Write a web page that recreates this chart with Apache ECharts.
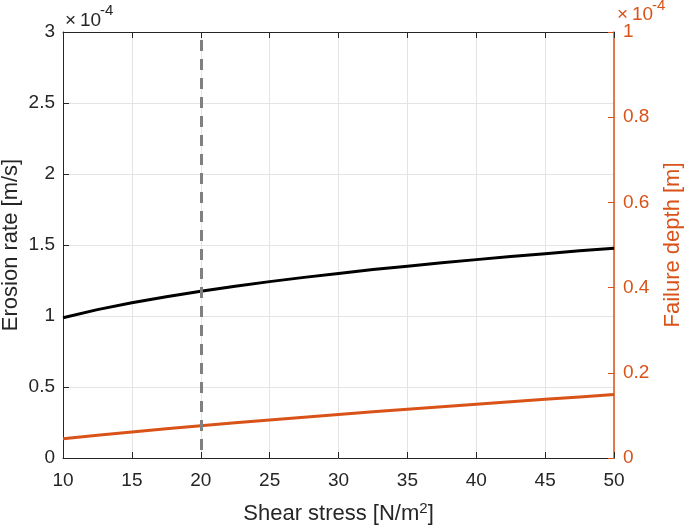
<!DOCTYPE html>
<html>
<head>
<meta charset="utf-8">
<script src="https://cdn.jsdelivr.net/npm/echarts@6/dist/echarts.min.js"></script>
<style>
  html, body { margin: 0; padding: 0; background: #fff; }
  #chart { width: 685px; height: 527px; }
</style>
</head>
<body>
<div id="chart"></div>
<script>
// Data (values in units of 1e-4)
const shearStress = [10, 12.5, 15, 17.5, 20, 22.5, 25, 27.5, 30, 32.5, 35, 37.5, 40, 42.5, 45, 47.5, 50];
const erosionRate = [0.988, 1.045, 1.093, 1.136, 1.175, 1.210, 1.242, 1.272, 1.300, 1.327, 1.351, 1.375, 1.397, 1.419, 1.439, 1.459, 1.477];
const failureDepth = [0.0454, 0.0535, 0.0612, 0.0686, 0.0757, 0.0826, 0.0893, 0.0958, 0.1022, 0.1084, 0.1144, 0.1204, 0.1263, 0.1321, 0.1378, 0.1434, 0.149];
const criticalShear = 20;
const xTicks = { min: 10, max: 50, interval: 5 };
const yLeftTicks = { min: 0, max: 3, interval: 0.5 };
const yRightTicks = { min: 0, max: 1, interval: 0.2 };

const AX = '#262626';
const OR = '#D95319';
const FONT = '"Liberation Sans", Arial, Helvetica, sans-serif';

const chart = echarts.init(document.getElementById('chart'), null, { renderer: 'canvas' });

const pair = (xs, ys) => xs.map((x, i) => [x, ys[i]]);

function expLabel(x0, yMain, ySup, color) {
  return [
    { type: 'text', x: x0, y: yMain, style: { text: '×', fontSize: 19, fontFamily: FONT, fill: color, verticalAlign: 'middle' } },
    { type: 'text', x: x0 + 15, y: yMain, style: { text: '10', fontSize: 19, fontFamily: FONT, fill: color, verticalAlign: 'middle' } },
    { type: 'text', x: x0 + 35, y: ySup, style: { text: '-4', fontSize: 15, fontFamily: FONT, fill: color, verticalAlign: 'middle' } }
  ];
}

chart.setOption({
  animation: false,
  backgroundColor: '#fff',
  textStyle: { fontFamily: FONT },
  grid: { left: 63, right: 71, top: 32, bottom: 69, containLabel: false, outerBoundsMode: 'none' },
  xAxis: [
    {
      type: 'value', position: 'bottom',
      min: xTicks.min, max: xTicks.max, interval: xTicks.interval,
      name: '{n|Shear stress [N/m}{s|2}{n|]}',
      nameLocation: 'middle', nameGap: 43, nameMoveOverlap: false,
      nameTextStyle: {
        color: AX, fontFamily: FONT,
        rich: {
          n: { fontSize: 22, color: AX, fontFamily: FONT, lineHeight: 26 },
          s: { fontSize: 15, color: AX, fontFamily: FONT, verticalAlign: 'top', lineHeight: 15 }
        }
      },
      axisLine: { show: true, onZero: false, lineStyle: { color: AX, width: 1 } },
      axisTick: { show: true, inside: true, length: 6, lineStyle: { color: AX } },
      axisLabel: { color: AX, fontSize: 19, fontFamily: FONT, margin: 13 },
      splitLine: { show: true, lineStyle: { color: '#e4e4e4', width: 1 } }
    },
    {
      type: 'value', position: 'top',
      min: xTicks.min, max: xTicks.max, interval: xTicks.interval,
      axisLine: { show: true, onZero: false, lineStyle: { color: AX, width: 1 } },
      axisTick: { show: true, inside: true, length: 6, lineStyle: { color: AX } },
      axisLabel: { show: false },
      splitLine: { show: false }
    }
  ],
  yAxis: [
    {
      type: 'value', position: 'left',
      min: yLeftTicks.min, max: yLeftTicks.max, interval: yLeftTicks.interval,
      name: 'Erosion rate [m/s]',
      nameLocation: 'middle', nameGap: 41, nameMoveOverlap: false,
      nameTextStyle: { color: AX, fontSize: 22, fontFamily: FONT },
      axisLine: { show: true, onZero: false, lineStyle: { color: AX, width: 1 } },
      axisTick: { show: true, inside: true, length: 6, lineStyle: { color: AX } },
      axisLabel: { color: AX, fontSize: 19, fontFamily: FONT, margin: 8 },
      splitLine: { show: true, lineStyle: { color: '#e4e4e4', width: 1 } }
    },
    {
      type: 'value', position: 'right',
      min: yRightTicks.min, max: yRightTicks.max, interval: yRightTicks.interval,
      name: 'Failure depth [m]',
      nameLocation: 'middle', nameGap: 48, nameMoveOverlap: false,
      nameRotate: 90,
      nameTextStyle: { color: OR, fontSize: 22, fontFamily: FONT },
      axisLine: { show: true, onZero: false, lineStyle: { color: OR, width: 1.5 } },
      axisTick: { show: true, inside: true, length: 6, lineStyle: { color: OR } },
      axisLabel: { color: OR, fontSize: 19, fontFamily: FONT, margin: 9 },
      splitLine: { show: false }
    }
  ],
  graphic: [].concat(expLabel(65, 20.5, 10.5, AX), expLabel(617, 14.5, 6, OR)),
  series: [
    {
      name: 'Erosion rate', type: 'line',
      xAxisIndex: 0, yAxisIndex: 0,
      data: pair(shearStress, erosionRate),
      smooth: false,
      showSymbol: false, symbol: 'none',
      lineStyle: { color: '#000', width: 3 },
      z: 3,
      markLine: {
        silent: true, symbol: 'none',
        label: { show: false },
        lineStyle: { color: '#808080', width: 3, type: [11, 8], dashOffset: 11 },
        data: [{ xAxis: criticalShear }]
      }
    },
    {
      name: 'Failure depth', type: 'line',
      xAxisIndex: 0, yAxisIndex: 1,
      data: pair(shearStress, failureDepth),
      smooth: false,
      showSymbol: false, symbol: 'none',
      lineStyle: { color: OR, width: 3 },
      z: 3
    }
  ]
});
</script>
</body>
</html>
